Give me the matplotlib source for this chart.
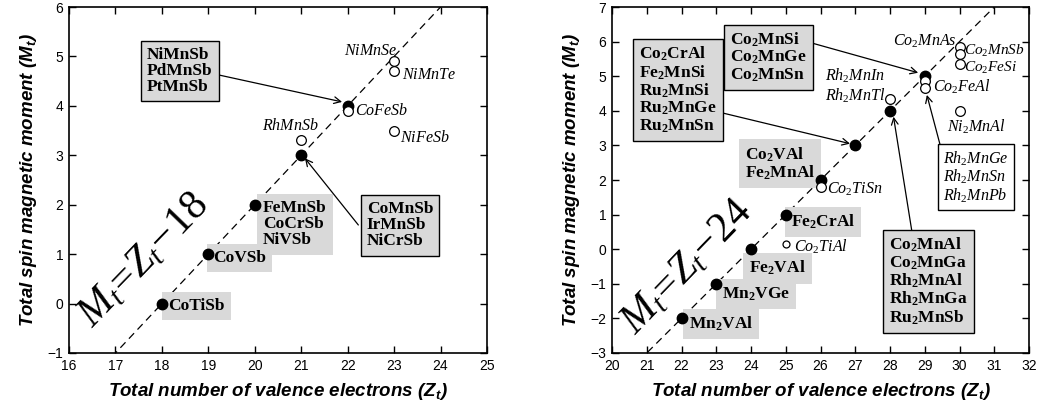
import matplotlib
matplotlib.use("Agg")
import matplotlib.pyplot as plt
import numpy as np

plt.rcParams['mathtext.fontset'] = 'custom'
plt.rcParams['mathtext.rm'] = 'Liberation Serif'
plt.rcParams['mathtext.it'] = 'Liberation Serif:italic'
plt.rcParams['mathtext.bf'] = 'Liberation Serif:bold'
plt.rcParams['mathtext.sf'] = 'Liberation Sans:bold:italic'
plt.rcParams['font.family'] = ['Liberation Sans', 'DejaVu Sans']

# ---------------- data ----------------
# left panel: half-Heusler
left_filled_z = [18, 19, 20, 21, 22]
left_filled_m = [0, 1, 2, 3, 4]
left_open_z = [21, 22, 23, 23, 23]
left_open_m = [3.3, 3.9, 4.9, 4.7, 3.5]
left_offset = 18

# right panel: full-Heusler
right_filled_z = [22, 23, 24, 25, 26, 27, 28, 29]
right_filled_m = [-2, -1, 0, 1, 2, 3, 4, 5]
right_open_z = [26, 28, 29, 29, 30, 30, 30, 30]
right_open_m = [1.8, 4.35, 4.85, 4.65, 5.85, 5.65, 5.35, 4.0]
right_small_open_z = [25]
right_small_open_m = [0.15]
right_offset = 24

left_xticks = list(range(16, 26))
left_yticks = list(range(-1, 7))
right_xticks = list(range(20, 33))
right_yticks = list(range(-3, 8))

GRAY = '#d9d9d9'

fig = plt.figure(figsize=(10.41, 4.15), dpi=100)
axL = fig.add_axes([0.0663, 0.1494, 0.4015, 0.8337])
axR = fig.add_axes([0.5879, 0.1494, 0.4006, 0.8337])


def style_axes(ax, xticks, yticks):
    ax.set_xlim(xticks[0], xticks[-1])
    ax.set_ylim(yticks[0], yticks[-1])
    ax.set_xticks(xticks)
    ax.set_yticks(yticks)
    ax.set_yticklabels([str(v).replace('-', '\u2212') for v in yticks])
    ax.tick_params(direction='in', length=5, width=1, top=True, right=True,
                   labelsize=10, pad=4)
    for s in ax.spines.values():
        s.set_linewidth(1.2)
    ax.set_xlabel(r'Total number of valence electrons ($\mathsf{Z_t}$)',
                  fontsize=13.5, fontweight='bold', fontstyle='italic', labelpad=6)
    ax.set_ylabel(r'Total spin magnetic moment ($\mathsf{M_t}$)',
                  fontsize=13.5, fontweight='bold', fontstyle='italic', labelpad=6)


def boxtext(ax, x, y, s, fc=GRAY, ec='black', size=12.5, **kw):
    ax.text(x, y, s, ha='center', va='center', multialignment='left',
            fontsize=size, linespacing=1.0, zorder=5,
            bbox=dict(boxstyle='square,pad=0.35', fc=fc, ec=ec, lw=1.0), **kw)


def arrow(ax, xy_from, xy_to):
    ax.annotate('', xy=xy_to, xytext=xy_from,
                arrowprops=dict(arrowstyle='->', lw=0.9, color='black',
                                mutation_scale=12, shrinkA=0, shrinkB=0),
                zorder=4)


def itext(ax, x, y, s, ha='left', size=11.5):
    ax.text(x, y, s, ha=ha, va='center', fontsize=size, zorder=5)


def bf(s):
    return r'$\mathbf{' + s + '}$'


def it(s):
    return r'$\mathit{' + s + '}$'


# ---------------- left panel ----------------
style_axes(axL, left_xticks, left_yticks)
zl = np.array(left_xticks, dtype=float)
axL.plot(zl, zl - left_offset, ls=(0, (6, 4)), color='black', lw=0.9, zorder=2)
axL.plot(left_filled_z, left_filled_m, 'o', color='black', ms=7.5, zorder=6)
axL.plot(left_open_z, left_open_m, 'o', mfc='white', mec='black', mew=0.9,
         ms=7, zorder=6)

boxtext(axL, 18.39, 4.70, 'NiMnSb\nPdMnSb\nPtMnSb', fontfamily='Liberation Serif',
        fontweight='bold')
boxtext(axL, 23.13, 1.58, 'CoMnSb\nIrMnSb\nNiCrSb', fontfamily='Liberation Serif',
        fontweight='bold')
boxtext(axL, 20.86, 1.60, 'FeMnSb\nCoCrSb\nNiVSb', ec='none',
        fontfamily='Liberation Serif', fontweight='bold')
boxtext(axL, 19.68, 0.92, 'CoVSb', ec='none', fontfamily='Liberation Serif',
        fontweight='bold')
boxtext(axL, 18.75, -0.05, 'CoTiSb', ec='none', fontfamily='Liberation Serif',
        fontweight='bold')

arrow(axL, (19.25, 4.62), (21.88, 4.08))
arrow(axL, (22.23, 1.59), (21.08, 2.94))

itext(axL, 23.07, 5.12, it('NiMnSe'), ha='right')
itext(axL, 23.18, 4.64, it('NiMnTe'))
itext(axL, 22.16, 3.92, it('CoFeSb'))
itext(axL, 20.76, 3.62, it('RhMnSb'), ha='center')
itext(axL, 23.12, 3.38, it('NiFeSb'))

axL.text(17.61, 0.88, r'$M_t\!=\!Z_t\!-\!18$', rotation=46, fontsize=30,
         ha='center', va='center', rotation_mode='anchor', zorder=5)

# ---------------- right panel ----------------
style_axes(axR, right_xticks, right_yticks)
zr = np.array(right_xticks, dtype=float)
axR.plot(zr, zr - right_offset, ls=(0, (6, 4)), color='black', lw=0.9, zorder=2)
axR.plot(right_filled_z, right_filled_m, 'o', color='black', ms=7.5, zorder=6)
axR.plot(right_open_z, right_open_m, 'o', mfc='white', mec='black', mew=0.9,
         ms=7, zorder=6)
axR.plot(right_small_open_z, right_small_open_m, 'o', mfc='white', mec='black',
         mew=0.9, ms=5, zorder=6)

boxtext(axR, 24.49, 5.55, bf('Co_2MnSi') + '\n' + bf('Co_2MnGe') + '\n' + bf('Co_2MnSn'))
boxtext(axR, 21.89, 4.61, bf('Co_2CrAl') + '\n' + bf('Fe_2MnSi') + '\n' + bf('Ru_2MnSi')
        + '\n' + bf('Ru_2MnGe') + '\n' + bf('Ru_2MnSn'))
boxtext(axR, 24.84, 2.47, bf('Co_2VAl') + '\n' + bf('Fe_2MnAl'), ec='none')
boxtext(axR, 26.07, 0.78, bf('Fe_2CrAl'), ec='none')
boxtext(axR, 24.76, -0.55, bf('Fe_2VAl'), ec='none')
boxtext(axR, 24.14, -1.30, bf('Mn_2VGe'), ec='none')
boxtext(axR, 23.14, -2.16, bf('Mn_2VAl'), ec='none')
boxtext(axR, 30.47, 2.08, it('Rh_2MnGe') + '\n' + it('Rh_2MnSn') + '\n' + it('Rh_2MnPb'),
        fc='white', size=11.5)
boxtext(axR, 29.11, -0.93, bf('Co_2MnAl') + '\n' + bf('Co_2MnGa') + '\n' + bf('Rh_2MnAl')
        + '\n' + bf('Rh_2MnGa') + '\n' + bf('Ru_2MnSb'))

arrow(axR, (25.64, 5.99), (28.81, 5.10))
arrow(axR, (23.17, 3.94), (26.85, 3.05))
arrow(axR, (29.44, 3.02), (29.06, 4.46))
arrow(axR, (28.63, 0.51), (28.10, 3.83))

itext(axR, 29.92, 6.0, it('Co_2MnAs'), ha='right')
itext(axR, 30.14, 5.72, it('Co_2MnSb'), size=11)
itext(axR, 30.14, 5.24, it('Co_2FeSi'), size=11)
itext(axR, 29.25, 4.68, it('Co_2FeAl'))
itext(axR, 30.47, 3.55, it('Ni_2MnAl'), ha='center')
axR.text(27.85, 4.72, it('Rh_2MnIn') + '\n' + it('Rh_2MnTl'), ha='right', va='center',
         multialignment='right', fontsize=11.5, linespacing=1.1, zorder=5)
itext(axR, 26.2, 1.73, it('Co_2TiSn'))
itext(axR, 25.25, 0.08, it('Co_2TiAl'))

axR.text(22.16, -0.52, r'$M_t\!=\!Z_t\!-\!24$', rotation=46, fontsize=30,
         ha='center', va='center', rotation_mode='anchor', zorder=5)

fig.savefig('out.png', dpi=100)
